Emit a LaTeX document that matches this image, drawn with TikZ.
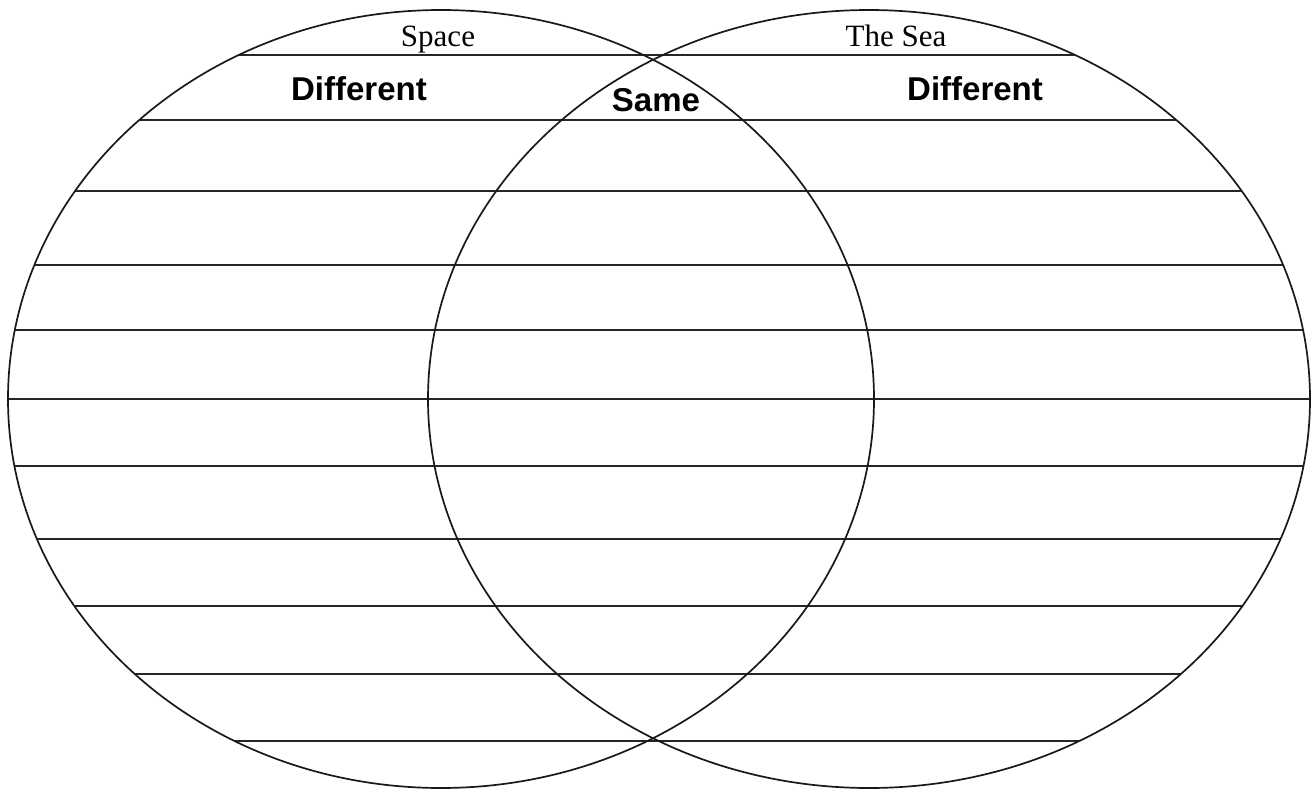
\documentclass[tikz,border=0pt]{standalone}
\usepackage{fontspec}
\newfontfamily\titlefont{Liberation Serif}
\newfontfamily\labelfont{Liberation Sans}
\begin{document}
\begin{tikzpicture}[x=1pt,y=-1pt,
  venn/.style={draw=black!90,line width=1.7pt},
  rule/.style={draw=black!85,line width=1.7pt},
  title/.style={anchor=base,inner sep=0pt,font=\titlefont\fontsize{31}{36}\selectfont},
  region/.style={anchor=base,inner sep=0pt,font=\labelfont\bfseries\fontsize{33}{39}\selectfont}]
\useasboundingbox (0,0) rectangle (1314,795);
\fill[white] (0,0) rectangle (1314,795);
% horizontal rules spanning the union of the two ellipses
\foreach \yy in {55,120,191,265,330,399,466,539,606,674,741}{
  \pgfmathsetmacro{\s}{sqrt(1-((\yy-399)/389)^2)}
  \pgfmathsetmacro{\xl}{441-433*\s}
  \pgfmathsetmacro{\xr}{869+441*\s}
  \draw[rule] (\xl,\yy) -- (\xr,\yy);
}
\draw[venn] (441,399) ellipse [x radius=433, y radius=389];
\draw[venn] (869,399) ellipse [x radius=441, y radius=389];
\node[title] (space) at (438,46) {Space};
\node[title] (sea) at (896,46) {The Sea};
\node[region] (diffl) at (359,100) {Different};
\node[region] (same) at (656,111) {Same};
\node[region] (diffr) at (975,100) {Different};
\end{tikzpicture}
\end{document}
